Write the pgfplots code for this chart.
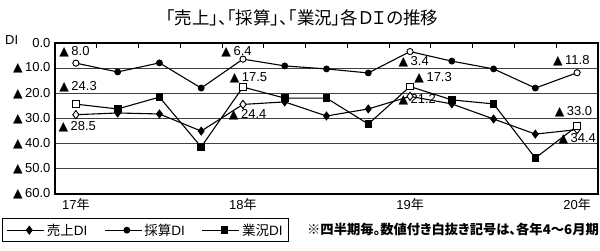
\documentclass[border=0pt]{standalone}
\usepackage{fontspec}
\setmainfont{Liberation Sans}
\newfontfamily\cjk{Noto Sans CJK JP}[RawFeature=+palt]
\newfontfamily\sym{DejaVu Sans}
\usepackage{pgfplots}
\usepackage{pgfplotstable}
\pgfplotsset{compat=1.18}
\newcommand\tri{{\sym\fontsize{12.5}{12}\selectfont ▲}\hspace{2.5pt}}
\pgfplotstableread{
x uri saisan gyokyo
0 28.5 8.0 24.3
1 27.8 11.5 26.2
2 28.2 7.9 21.5
3 35.0 17.9 41.3
4 24.4 6.4 17.5
5 23.4 9.1 21.9
6 29.0 10.3 21.9
7 26.2 11.9 32.2
8 21.2 3.4 17.3
9 24.2 7.2 22.6
10 30.2 10.3 24.2
11 36.2 17.9 45.7
12 34.4 11.8 33.0
}\data
\begin{document}
\begin{tikzpicture}[x=1pt,y=1pt]
\path[use as bounding box] (0,0) rectangle (600,250);
\begin{axis}[
  at={(55pt,56pt)}, anchor=south west,
  scale only axis, width=543pt, height=151pt,
  xmin=-0.5, xmax=12.5, ymin=0, ymax=60, y dir=reverse,
  axis line style={line width=1.1pt},
  xtick={0,4,8,12},
  xticklabels={{17{\cjk 年}},{18{\cjk 年}},{19{\cjk 年}},{20{\cjk 年}}},
  minor xtick={-0.5,0.5,...,12.5},
  xtick pos=upper, xticklabel pos=lower,
  tick align=inside, major tick length=0pt, minor tick length=5pt,
  minor tick style={line width=1pt, black},
  ytick={0,10,...,60},
  yticklabels={0.0,{\tri 10.0},{\tri 20.0},{\tri 30.0},{\tri 40.0},{\tri 50.0},{\tri 60.0}},
  ytick style={draw=none},
  ymajorgrids, grid style={black!75, line width=1.2pt},
  tick label style={font=\fontsize{13}{15}\selectfont},
  yticklabel style={xshift=-1pt},
  xticklabel style={yshift=-1pt},
  legend columns=3,
  legend style={at={(axis description cs:-0.0976,-0.159)}, anchor=north west,
    draw=black, line width=1.4pt, inner xsep=4pt, inner ysep=3pt,
    font=\fontsize{13.5}{15}\selectfont,
    /tikz/every even column/.append style={column sep=15pt}},
  legend cell align=left,
  legend image code/.code={\draw[mark repeat=2,mark phase=2,#1] plot coordinates {(0pt,0pt) (22pt,0pt) (37pt,0pt)};},
  every axis plot/.append style={black, line width=1.1pt},
]
\addplot[mark=diamond*, mark size=4pt, mark options={solid, fill=black, line width=0.8pt}] table[x=x,y=uri] {\data};
\addlegendentry{{\cjk 売上}DI}
\addplot[mark=*, mark size=3pt, mark options={solid, fill=black, line width=0.8pt}] table[x=x,y=saisan] {\data};
\addlegendentry{{\cjk 採算}DI}
\addplot[mark=square*, mark size=3.3pt, mark options={solid, fill=black, line width=0.8pt}] table[x=x,y=gyokyo] {\data};
\addlegendentry{{\cjk 業況}DI}
\addplot[forget plot, only marks, mark=diamond*, mark size=4pt, mark options={fill=white, line width=0.8pt}, mark indices={1,5,9,13}] table[x=x,y=uri] {\data};
\addplot[forget plot, only marks, mark=*, mark size=3pt, mark options={fill=white, line width=0.8pt}, mark indices={1,5,9,13}] table[x=x,y=saisan] {\data};
\addplot[forget plot, only marks, mark=square*, mark size=3.3pt, mark options={fill=white, line width=0.8pt}, mark indices={1,5,9,13}] table[x=x,y=gyokyo] {\data};
\begin{scope}[every node/.style={anchor=west, inner sep=0pt, font=\fontsize{13}{15}\selectfont}]
\node at (axis cs:-0.40,3.6) {\tri 8.0};
\node at (axis cs:-0.40,17.5) {\tri 24.3};
\node at (axis cs:-0.42,33.4) {\tri 28.5};
\node at (axis cs:3.48,3.6) {\tri 6.4};
\node at (axis cs:3.68,13.9) {\tri 17.5};
\node at (axis cs:3.66,28.6) {\tri 24.4};
\node at (axis cs:7.72,7.6) {\tri 3.4};
\node at (axis cs:8.10,13.9) {\tri 17.3};
\node at (axis cs:7.72,22.6) {\tri 21.2};
\node at (axis cs:11.42,7.1) {\tri 11.8};
\node at (axis cs:11.46,27.4) {\tri 33.0};
\node at (axis cs:11.55,38.1) {\tri 34.4};
\end{scope}
\end{axis}
\node[anchor=west, inner sep=0pt, font=\fontsize{13}{15}\selectfont] at (5,210) {DI};
\node[inner sep=0pt, font=\fontsize{17.5}{19}\selectfont\cjk] at (302,232.5) {「売上」、「採算」、「業況」各ＤＩの推移};
\node[inner sep=0pt, font=\fontsize{13.3}{15}\selectfont\cjk\bfseries] at (453,21) {※四半期毎。数値付き白抜き記号は、各年4～6月期};
\end{tikzpicture}
\end{document}
